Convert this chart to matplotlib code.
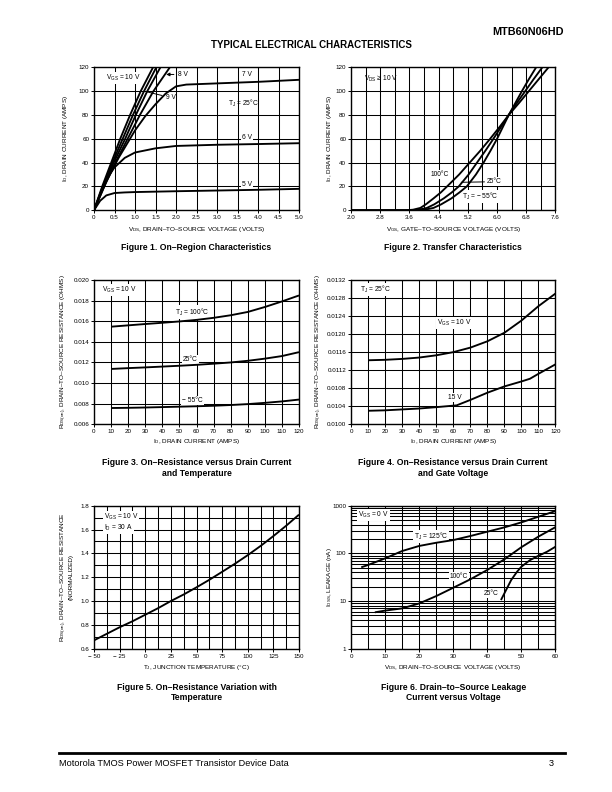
import matplotlib
matplotlib.use('Agg')
import matplotlib.pyplot as plt
from matplotlib.ticker import FixedLocator, MultipleLocator, LogLocator, NullFormatter

plt.rcParams['font.family'] = ['Liberation Sans', 'DejaVu Sans']
plt.rcParams['mathtext.fontset'] = 'custom'
plt.rcParams['mathtext.rm'] = 'Liberation Sans'
plt.rcParams['mathtext.default'] = 'regular'

# ---------------- data ----------------
# Figure 1: On-region characteristics (VDS volts, ID amps)
f1_i_steep = [0, 20, 40, 60, 80, 100, 120]
f1_v_10 = [0, 0.20, 0.42, 0.64, 0.88, 1.14, 1.44]
f1_v_9a = [0, 0.22, 0.45, 0.70, 0.95, 1.22, 1.52]
f1_v_9 = [0, 0.23, 0.48, 0.76, 1.02, 1.30, 1.62]
f1_v_8 = [0, 0.25, 0.52, 0.82, 1.12, 1.45, 1.85]
f1_v_7 = [0, 0.3, 0.6, 1.0, 1.25, 1.5, 1.75, 2.0, 2.25, 3.0, 4.0, 5.0]
f1_i_7 = [0, 24, 44, 67, 79, 89, 98, 104, 105.5, 106.5, 107.8, 109.5]
f1_v_6 = [0, 0.15, 0.3, 0.5, 0.75, 1.0, 1.5, 2.0, 3.0, 4.0, 5.0]
f1_i_6 = [0, 14, 26, 36, 44, 48.5, 52, 54, 55, 55.6, 56.3]
f1_v_5 = [0, 0.15, 0.3, 0.5, 0.75, 1.0, 2.0, 3.0, 4.0, 5.0]
f1_i_5 = [0, 8, 12.5, 14.5, 15, 15.3, 16, 16.6, 17.2, 18]

# Figure 2: Transfer characteristics (VGS volts, ID amps)
f2_i = [0, 0, 0.5, 2, 5, 10, 15, 20, 30, 40, 50, 60, 70, 80, 90, 100, 110, 120]
f2_v_100 = [2.0, 3.5, 3.7, 3.9, 4.05, 4.26, 4.46, 4.63, 4.96, 5.25, 5.54, 5.81, 6.07, 6.32, 6.60, 6.87, 7.14, 7.41]
f2_v_25 = [2.0, 3.65, 3.85, 4.08, 4.28, 4.54, 4.76, 4.95, 5.22, 5.45, 5.68, 5.90, 6.11, 6.32, 6.54, 6.77, 7.00, 7.24]
f2_v_m55 = [2.0, 3.8, 4.02, 4.26, 4.47, 4.75, 4.97, 5.17, 5.42, 5.63, 5.82, 6.00, 6.16, 6.32, 6.50, 6.68, 6.87, 7.07]

# Figure 3: RDS(on) vs ID and temperature
f3_id = [10, 20, 30, 40, 50, 60, 70, 80, 90, 100, 110, 120]
f3_r_100 = [0.01547, 0.0156, 0.01573, 0.01585, 0.01598, 0.01613, 0.01633, 0.01658, 0.0169, 0.01738, 0.01792, 0.0185]
f3_r_25 = [0.01137, 0.01145, 0.01152, 0.0116, 0.01168, 0.01177, 0.01188, 0.012, 0.01216, 0.01237, 0.01262, 0.013]
f3_r_m55 = [0.00758, 0.0076, 0.00763, 0.00767, 0.00771, 0.00775, 0.0078, 0.00787, 0.00796, 0.00808, 0.00822, 0.0084]

# Figure 4: RDS(on) vs ID and gate voltage
f4_id_10 = [10, 20, 30, 40, 50, 60, 70, 80, 90, 100, 110, 120]
f4_r_10 = [0.01142, 0.01143, 0.01145, 0.01148, 0.01153, 0.0116, 0.0117, 0.01184, 0.01203, 0.0123, 0.01262, 0.0129]
f4_id_15 = [10, 20, 30, 40, 50, 62, 70, 80, 90, 100, 105, 110, 120]
f4_r_15 = [0.0103, 0.01031, 0.01033, 0.01035, 0.01038, 0.01042, 0.01054, 0.0107, 0.01084, 0.01095, 0.01101, 0.01112, 0.01133]

# Figure 5: normalized RDS(on) vs junction temperature
f5_t = [-50, -37.5, -25, -12.5, 0, 12.5, 25, 37.5, 50, 62.5, 75, 87.5, 100, 112.5, 125, 137.5, 150]
f5_r = [0.67, 0.725, 0.78, 0.83, 0.885, 0.94, 1.0, 1.055, 1.115, 1.178, 1.245, 1.313, 1.385, 1.462, 1.545, 1.632, 1.725]

# Figure 6: IDSS leakage vs VDS
f6_v_125 = [3, 5, 10, 15, 20, 25, 30, 35, 40, 45, 50, 55, 60]
f6_i_125 = [51, 57, 78.5, 112, 143, 167, 190, 231, 285, 351, 447, 588, 773]
f6_v_100 = [7, 10, 15, 20, 25, 30, 35, 40, 45, 50, 55, 60]
f6_i_100 = [5.8, 6.3, 7.0, 8.9, 12.7, 19, 28.5, 45, 75, 135, 225, 355]
f6_v_25 = [44, 47, 48.7, 50, 52.5, 55, 57.5, 60]
f6_i_25 = [10.5, 27.6, 41, 52.6, 72, 89, 108, 138]

# ---------------- layout helpers ----------------
W, H = 612, 792
fig = plt.figure(figsize=(6.12, 7.92), dpi=100)

TICK_FS = 4.5
LAB_FS = 4.6
ANN_FS = 4.8
CAP_FS = 6.2
CURVE_LW = 1.35
GRID_LW = 0.75


def axes_px(l, t, r, b):
    return fig.add_axes([l / W, 1 - b / H, (r - l) / W, (b - t) / H])


def ftext(x, y, s, **kw):
    fig.text(x / W, 1 - y / H, s, **kw)


def style(ax, minor_grid=False):
    for s in ax.spines.values():
        s.set_linewidth(1.0)
    ax.tick_params(axis='both', which='major', length=2, width=0.7,
                   labelsize=TICK_FS, pad=1.5, direction='out')
    ax.tick_params(axis='both', which='minor', length=0)
    ax.grid(True, which='major', color='black', lw=GRID_LW)
    if minor_grid:
        ax.grid(True, which='minor', color='black', lw=GRID_LW)
    ax.set_axisbelow(True)


WB = dict(boxstyle='square,pad=0.15', fc='white', ec='none')


def ann(ax, x, y, s, box=True, **kw):
    ax.text(x, y, s, fontsize=ANN_FS, ha='left', va='center',
            bbox=WB if box else None, zorder=4, **kw)


def curve(ax, x, y):
    ax.plot(x, y, color='black', lw=CURVE_LW, solid_capstyle='butt', zorder=6)


# header / footer
ftext(564, 32, 'MTB60N06HD', fontsize=7.8, fontweight='heavy', ha='right', va='center')
ftext(311, 45, 'TYPICAL ELECTRICAL CHARACTERISTICS', fontsize=7.0, fontweight='bold',
      ha='center', va='center')
fig.add_artist(plt.Line2D([59 / W, 565 / W], [1 - 752.5 / H, 1 - 752.5 / H],
                          color='black', lw=2.0))
ftext(59, 763, 'Motorola TMOS Power MOSFET Transistor Device Data', fontsize=6.6,
      ha='left', va='center')
ftext(554, 763, '3', fontsize=6.6, ha='right', va='center')

L1, R1 = 94, 299
L2, R2 = 351, 555.5

# ---------------- Figure 1 ----------------
ax1 = axes_px(L1, 67.3, R1, 210.3)
for v in (f1_v_10, f1_v_9a, f1_v_9, f1_v_8):
    curve(ax1, v, f1_i_steep)
curve(ax1, f1_v_7, f1_i_7)
curve(ax1, f1_v_6, f1_i_6)
curve(ax1, f1_v_5, f1_i_5)
ax1.set_xlim(0, 5)
ax1.set_ylim(0, 120)
ax1.xaxis.set_major_locator(FixedLocator([0, 0.5, 1, 1.5, 2, 2.5, 3, 3.5, 4, 4.5, 5]))
ax1.set_xticklabels(['0', '0.5', '1.0', '1.5', '2.0', '2.5', '3.0', '3.5', '4.0', '4.5', '5.0'])
ax1.yaxis.set_major_locator(MultipleLocator(20))
style(ax1)
ann(ax1, 0.3, 111, 'V$_{GS}$ = 10 V')
ax1.annotate('8 V', xy=(1.76, 114), xytext=(2.05, 114), fontsize=ANN_FS, va='center',
             arrowprops=dict(arrowstyle='-|>', color='black', lw=0.7, mutation_scale=5,
                             shrinkA=1, shrinkB=0), zorder=7)
ax1.annotate('9 V', xy=(1.28, 99.5), xytext=(1.76, 94.5), fontsize=ANN_FS, va='center',
             arrowprops=dict(arrowstyle='-', color='black', lw=0.7, shrinkA=1, shrinkB=0),
             zorder=7)
ann(ax1, 3.62, 114, '7 V', box=False)
ann(ax1, 3.26, 90, 'T$_J$ = 25°C', box=False)
ann(ax1, 3.62, 61.5, '6 V')
ann(ax1, 3.62, 21.5, '5 V')
ftext(65, 138.8, 'I$_D$, DRAIN CURRENT (AMPS)', fontsize=LAB_FS, rotation=90,
      ha='center', va='center')
ftext((L1 + R1) / 2, 229, 'V$_{DS}$, DRAIN–TO–SOURCE VOLTAGE (VOLTS)', fontsize=LAB_FS,
      ha='center', va='center')
ftext((L1 + R1) / 2, 248, 'Figure 1. On–Region Characteristics', fontsize=CAP_FS,
      fontweight='bold', ha='center', va='center')

# ---------------- Figure 2 ----------------
ax2 = axes_px(L2, 67.3, R2, 210.3)
curve(ax2, f2_v_100, f2_i)
curve(ax2, f2_v_25, f2_i)
curve(ax2, f2_v_m55, f2_i)
ax2.set_xlim(2.0, 7.6)
ax2.set_ylim(0, 120)
ax2.xaxis.set_major_locator(FixedLocator([2.0, 2.8, 3.6, 4.4, 5.2, 6.0, 6.8, 7.6]))
ax2.set_xticklabels(['2.0', '2.8', '3.6', '4.4', '5.2', '6.0', '6.8', '7.6'])
ax2.xaxis.set_minor_locator(FixedLocator([2.4, 3.2, 4.0, 4.8, 5.6, 6.4, 7.2]))
ax2.yaxis.set_major_locator(MultipleLocator(20))
style(ax2, minor_grid=True)
ann(ax2, 2.35, 110, 'V$_{DS}$ ≥ 10 V', box=False)
ann(ax2, 4.17, 30, '100°C')
ax2.annotate('25°C', xy=(5.02, 23.5), xytext=(5.72, 24), fontsize=ANN_FS, va='center',
             arrowprops=dict(arrowstyle='-', color='black', lw=0.7, shrinkA=1, shrinkB=0),
             bbox=WB, zorder=4)
ann(ax2, 5.04, 11.5, 'T$_J$ = − 55°C')
ftext(330, 138.8, 'I$_D$, DRAIN CURRENT (AMPS)', fontsize=LAB_FS, rotation=90,
      ha='center', va='center')
ftext((L2 + R2) / 2, 229, 'V$_{GS}$, GATE–TO–SOURCE VOLTAGE (VOLTS)', fontsize=LAB_FS,
      ha='center', va='center')
ftext((L2 + R2) / 2, 248, 'Figure 2. Transfer Characteristics', fontsize=CAP_FS,
      fontweight='bold', ha='center', va='center')

# ---------------- Figure 3 ----------------
ax3 = axes_px(L1, 280, R1, 424.3)
curve(ax3, f3_id, f3_r_100)
curve(ax3, f3_id, f3_r_25)
curve(ax3, f3_id, f3_r_m55)
ax3.set_xlim(0, 120)
ax3.set_ylim(0.006, 0.020)
ax3.xaxis.set_major_locator(MultipleLocator(10))
ax3.yaxis.set_major_locator(FixedLocator([0.006, 0.008, 0.010, 0.012, 0.014, 0.016, 0.018, 0.020]))
ax3.set_yticklabels(['0.006', '0.008', '0.010', '0.012', '0.014', '0.016', '0.018', '0.020'])
style(ax3)
ann(ax3, 4.9, 0.0190, 'V$_{GS}$ = 10 V')
ann(ax3, 47.7, 0.0169, 'T$_J$ = 100°C')
ann(ax3, 52.2, 0.0123, '25°C')
ann(ax3, 51.6, 0.0083, '− 55°C')
ftext(64, 352, 'R$_{DS(on)}$, DRAIN–TO–SOURCE RESISTANCE (OHMS)', fontsize=LAB_FS,
      rotation=90, ha='center', va='center')
ftext((L1 + R1) / 2, 442, 'I$_D$, DRAIN CURRENT (AMPS)', fontsize=LAB_FS,
      ha='center', va='center')
ftext((L1 + R1) / 2, 462, 'Figure 3. On–Resistance versus Drain Current', fontsize=CAP_FS,
      fontweight='bold', ha='center', va='center')
ftext((L1 + R1) / 2, 473, 'and Temperature', fontsize=CAP_FS,
      fontweight='bold', ha='center', va='center')

# ---------------- Figure 4 ----------------
ax4 = axes_px(L2, 280, R2, 424.3)
curve(ax4, f4_id_10, f4_r_10)
curve(ax4, f4_id_15, f4_r_15)
ax4.set_xlim(0, 120)
ax4.set_ylim(0.0100, 0.0132)
ax4.xaxis.set_major_locator(MultipleLocator(10))
ax4.yaxis.set_major_locator(FixedLocator([0.0100, 0.0104, 0.0108, 0.0112, 0.0116, 0.0120,
                                          0.0124, 0.0128, 0.0132]))
ax4.set_yticklabels(['0.0100', '0.0104', '0.0108', '0.0112', '0.0116', '0.0120',
                     '0.0124', '0.0128', '0.0132'])
style(ax4)
ann(ax4, 5.5, 0.01299, 'T$_J$ = 25°C')
ann(ax4, 50.3, 0.01225, 'V$_{GS}$ = 10 V')
ann(ax4, 57, 0.0106, '15 V')
ftext(319, 352, 'R$_{DS(on)}$, DRAIN–TO–SOURCE RESISTANCE (OHMS)', fontsize=LAB_FS,
      rotation=90, ha='center', va='center')
ftext((L2 + R2) / 2, 442, 'I$_D$, DRAIN CURRENT (AMPS)', fontsize=LAB_FS,
      ha='center', va='center')
ftext((L2 + R2) / 2, 462, 'Figure 4. On–Resistance versus Drain Current', fontsize=CAP_FS,
      fontweight='bold', ha='center', va='center')
ftext((L2 + R2) / 2, 473, 'and Gate Voltage', fontsize=CAP_FS,
      fontweight='bold', ha='center', va='center')

# ---------------- Figure 5 ----------------
ax5 = axes_px(L1, 505.7, R1, 648.7)
curve(ax5, f5_t, f5_r)
ax5.set_xlim(-50, 150)
ax5.set_ylim(0.6, 1.8)
ax5.xaxis.set_major_locator(FixedLocator([-50, -25, 0, 25, 50, 75, 100, 125, 150]))
ax5.set_xticklabels(['− 50', '− 25', '0', '25', '50', '75', '100', '125', '150'])
ax5.xaxis.set_minor_locator(MultipleLocator(12.5))
ax5.yaxis.set_major_locator(FixedLocator([0.6, 0.8, 1.0, 1.2, 1.4, 1.6, 1.8]))
ax5.set_yticklabels(['0.6', '0.8', '1.0', '1.2', '1.4', '1.6', '1.8'])
ax5.yaxis.set_minor_locator(MultipleLocator(0.1))
style(ax5, minor_grid=True)
ann(ax5, -40.3, 1.708, 'V$_{GS}$ = 10 V')
ann(ax5, -40.3, 1.61, 'I$_D$ = 30 A')
ftext(64, 577, 'R$_{DS(on)}$, DRAIN–TO–SOURCE RESISTANCE', fontsize=LAB_FS,
      rotation=90, ha='center', va='center')
ftext(71, 577, '(NORMALIZED)', fontsize=LAB_FS, rotation=90, ha='center', va='center')
ftext((L1 + R1) / 2, 667, 'T$_J$, JUNCTION TEMPERATURE (°C)', fontsize=LAB_FS,
      ha='center', va='center')
ftext((L1 + R1) / 2, 687, 'Figure 5. On–Resistance Variation with', fontsize=CAP_FS,
      fontweight='bold', ha='center', va='center')
ftext((L1 + R1) / 2, 698, 'Temperature', fontsize=CAP_FS,
      fontweight='bold', ha='center', va='center')

# ---------------- Figure 6 ----------------
ax6 = axes_px(L2, 505.7, R2, 648.7)
curve(ax6, f6_v_125, f6_i_125)
curve(ax6, f6_v_100, f6_i_100)
curve(ax6, f6_v_25, f6_i_25)
ax6.set_yscale('log')
ax6.set_xlim(0, 60)
ax6.set_ylim(1, 1000)
ax6.xaxis.set_major_locator(MultipleLocator(10))
ax6.xaxis.set_minor_locator(MultipleLocator(5))
ax6.yaxis.set_major_locator(FixedLocator([1, 10, 100, 1000]))
ax6.set_yticklabels(['1', '10', '100', '1000'])
ax6.yaxis.set_minor_locator(LogLocator(base=10, subs=(2, 3, 4, 5, 6, 7, 8, 9)))
ax6.yaxis.set_minor_formatter(NullFormatter())
style(ax6, minor_grid=True)
ann(ax6, 2.2, 630, 'V$_{GS}$ = 0 V')
ann(ax6, 18.4, 225, 'T$_J$ = 125°C')
ann(ax6, 28.9, 33, '100°C')
ann(ax6, 39.0, 14.5, '25°C')
ftext(329, 577, 'I$_{DSS}$, LEAKAGE (nA)', fontsize=LAB_FS, rotation=90,
      ha='center', va='center')
ftext((L2 + R2) / 2, 667, 'V$_{DS}$, DRAIN–TO–SOURCE VOLTAGE (VOLTS)', fontsize=LAB_FS,
      ha='center', va='center')
ftext((L2 + R2) / 2, 687, 'Figure 6. Drain–to–Source Leakage', fontsize=CAP_FS,
      fontweight='bold', ha='center', va='center')
ftext((L2 + R2) / 2, 698, 'Current versus Voltage', fontsize=CAP_FS,
      fontweight='bold', ha='center', va='center')

fig.savefig('out.png', dpi=100)
